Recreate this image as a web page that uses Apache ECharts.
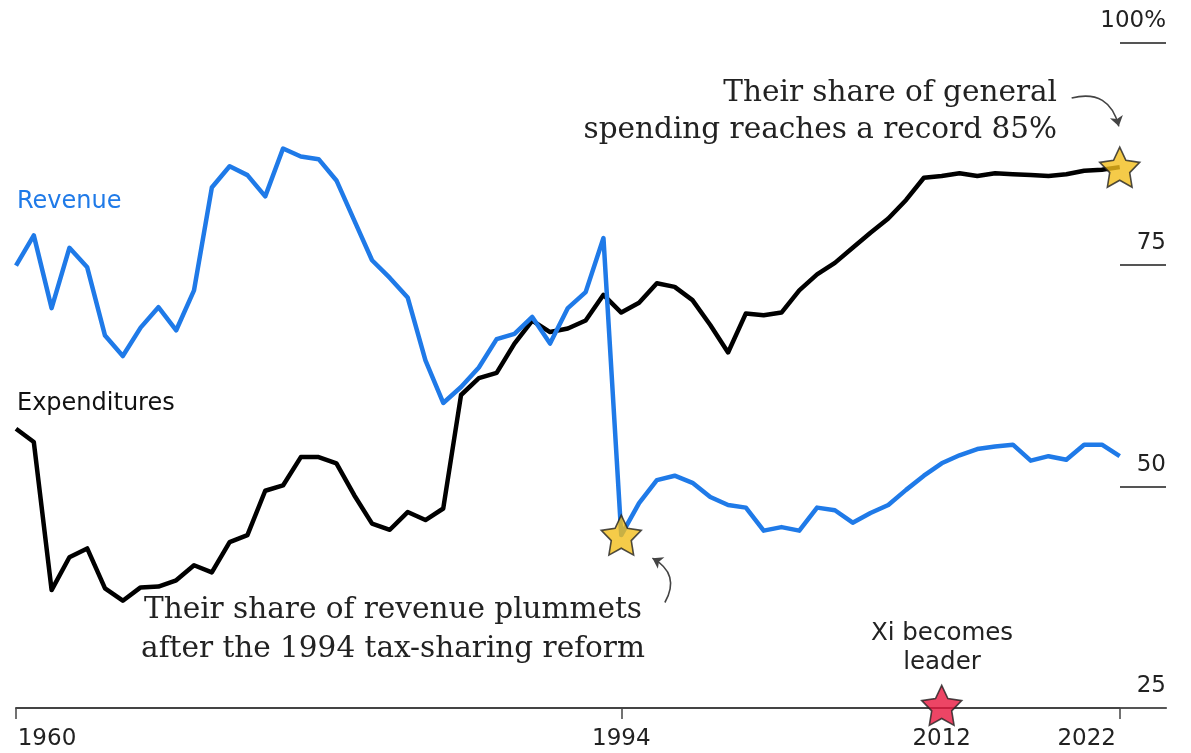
<!DOCTYPE html>
<html>
<head>
<meta charset="utf-8">
<script src="https://cdn.jsdelivr.net/npm/echarts@6/dist/echarts.min.js"></script>
<style>
  html, body { margin: 0; padding: 0; background: #fff; }
  #chart { width: 1191px; height: 753px; }
</style>
</head>
<body>
<div id="chart"></div>
<script>
// years 1960..2022
const years = []
for (let y = 1960; y <= 2022; y++) years.push(y)

// local governments' share (%)
const revenue = [
  74.9, 78.3, 70.1, 76.9, 74.7, 67.0, 64.7, 67.9, 70.2, 67.6,
  72.1, 83.7, 86.1, 85.1, 82.7, 88.1, 87.2, 86.9, 84.5, 80.0,
  75.5, 73.5, 71.3, 64.2, 59.4, 61.2, 63.4, 66.6, 67.2, 69.1,
  66.1, 70.1, 71.9, 78.0, 44.5, 48.1, 50.7, 51.2, 50.4, 48.8,
  47.9, 47.6, 45.0, 45.4, 45.0, 47.6, 47.3, 45.9, 47.0, 47.9,
  49.6, 51.2, 52.6, 53.5, 54.2, 54.5, 54.7, 52.9, 53.4, 53.0,
  54.7, 54.7, 53.4,
]
const expenditures = [
  56.5, 55.0, 38.3, 42.0, 43.0, 38.5, 37.1, 38.6, 38.7, 39.4,
  41.1, 40.3, 43.7, 44.5, 49.5, 50.1, 53.3, 53.3, 52.6, 49.0,
  45.8, 45.1, 47.1, 46.2, 47.5, 60.3, 62.2, 62.8, 66.1, 68.7,
  67.4, 67.8, 68.7, 71.6, 69.6, 70.7, 72.9, 72.5, 71.0, 68.2,
  65.1, 69.5, 69.3, 69.6, 72.1, 73.9, 75.2, 76.9, 78.6, 80.2,
  82.3, 84.8, 85.0, 85.3, 85.0, 85.3, 85.2, 85.1, 85.0, 85.2,
  85.6, 85.7, 86.0,
]

const xLabelYears = [1960, 1994, 2012, 2022]

// highlighted points [year, value]
const goldStars = [[1994, 44.5], [2022, 86.0]]
const redStars = [[2012, 25.3]]

// curved annotation arrows: start, end
const arrowTop = [[2019.3, 93.8], [2021.95, 90.6]]
const arrowBottom = [[1996.45, 36.9], [1995.75, 41.9]]

const BLUE = '#1f7ae8'
const INK = '#222'
const SANS = 'DejaVu Sans, sans-serif'
const SERIF = 'DejaVu Serif, serif'
const STAR = 'path://M50,0 L64.7,29.8 L97.6,34.5 L73.8,57.7 L79.4,90.5 L50,75 L20.6,90.5 L26.2,57.7 L2.4,34.5 L35.3,29.8 Z'

function arrow(pair, curve) {
  return {
    type: 'lines', coordinateSystem: 'cartesian2d', z: 5, silent: true,
    symbol: ['none', 'arrow'], symbolSize: 10,
    lineStyle: { color: '#444', width: 1.6, opacity: 1, curveness: curve },
    data: [{ coords: pair }],
  }
}

const chart = echarts.init(document.getElementById('chart'))

chart.setOption({
  animation: false,
  grid: { left: 16, right: 25, top: 43, bottom: 45 },
  xAxis: {
    type: 'value', min: 1960, max: 2024.6,
    splitLine: { show: false },
    axisLine: { lineStyle: { color: '#444', width: 2 } },
    axisTick: { show: true, customValues: [1960, 1994, 2022], length: 11, lineStyle: { color: '#444', width: 1.5 } },
    axisLabel: {
      customValues: xLabelYears,
      margin: 20,
      color: INK, fontFamily: SANS, fontSize: 23,
      formatter: v => v === 1960 ? '{l|' + v + '}' : v === 2022 ? '{r|' + v + '}' : String(v),
      rich: {
        l: { padding: [0, 0, 0, 62], fontFamily: SANS, fontSize: 23, color: INK },
        r: { padding: [0, 66, 0, 0], fontFamily: SANS, fontSize: 23, color: INK },
      },
    },
  },
  yAxis: {
    type: 'value', position: 'right', min: 25, max: 100, interval: 25,
    splitLine: { show: false },
    axisLine: { show: false },
    axisTick: { show: true, inside: true, length: 46, lineStyle: { color: '#555', width: 2 } },
    axisLabel: {
      inside: true, margin: 0, verticalAlign: 'bottom',
      padding: [0, 0, 10, 0],
      color: INK, fontFamily: SANS, fontSize: 23,
      formatter: v => v === 100 ? '100%' : String(v),
    },
  },
  series: [
    {
      name: 'Expenditures', type: 'line', symbol: 'none', z: 3,
      data: years.map((y, i) => [y, expenditures[i]]),
      lineStyle: { color: '#000', width: 4.5, join: 'round' },
    },
    {
      name: 'Revenue', type: 'line', symbol: 'none', z: 4,
      data: years.map((y, i) => [y, revenue[i]]),
      lineStyle: { color: BLUE, width: 4.5, join: 'round' },
    },
    arrow(arrowTop, 0.5),
    arrow(arrowBottom, -0.5),
    {
      type: 'scatter', z: 6, symbol: STAR, symbolSize: 40,
      data: goldStars,
      itemStyle: { color: '#f3be1c', borderColor: '#222', borderWidth: 1.6 },
    },
    {
      type: 'scatter', z: 6, symbol: STAR, symbolSize: 40,
      data: redStars,
      itemStyle: { color: '#e8173f', borderColor: '#222', borderWidth: 1.6 },
    },
  ],
  graphic: [
    { type: 'text', style: { text: 'Revenue', x: 17, y: 202, verticalAlign: 'middle', fill: BLUE, font: '24px ' + SANS } },
    { type: 'text', style: { text: 'Expenditures', x: 17, y: 404, verticalAlign: 'middle', fill: '#111', font: '24px ' + SANS } },
    { type: 'text', style: { text: 'Their share of general', x: 1057, y: 93, align: 'right', verticalAlign: 'middle', fill: INK, font: '29.5px ' + SERIF } },
    { type: 'text', style: { text: 'spending reaches a record 85%', x: 1057, y: 130, align: 'right', verticalAlign: 'middle', fill: INK, font: '29.5px ' + SERIF } },
    { type: 'text', style: { text: 'Their share of revenue plummets', x: 393, y: 610, align: 'center', verticalAlign: 'middle', fill: INK, font: '29.5px ' + SERIF } },
    { type: 'text', style: { text: 'after the 1994 tax-sharing reform', x: 393, y: 649, align: 'center', verticalAlign: 'middle', fill: INK, font: '29.5px ' + SERIF } },
    { type: 'text', style: { text: 'Xi becomes', x: 942, y: 634, align: 'center', verticalAlign: 'middle', fill: INK, font: '24.5px ' + SANS } },
    { type: 'text', style: { text: 'leader', x: 942, y: 663, align: 'center', verticalAlign: 'middle', fill: INK, font: '24.5px ' + SANS } },
  ],
})
</script>
</body>
</html>
